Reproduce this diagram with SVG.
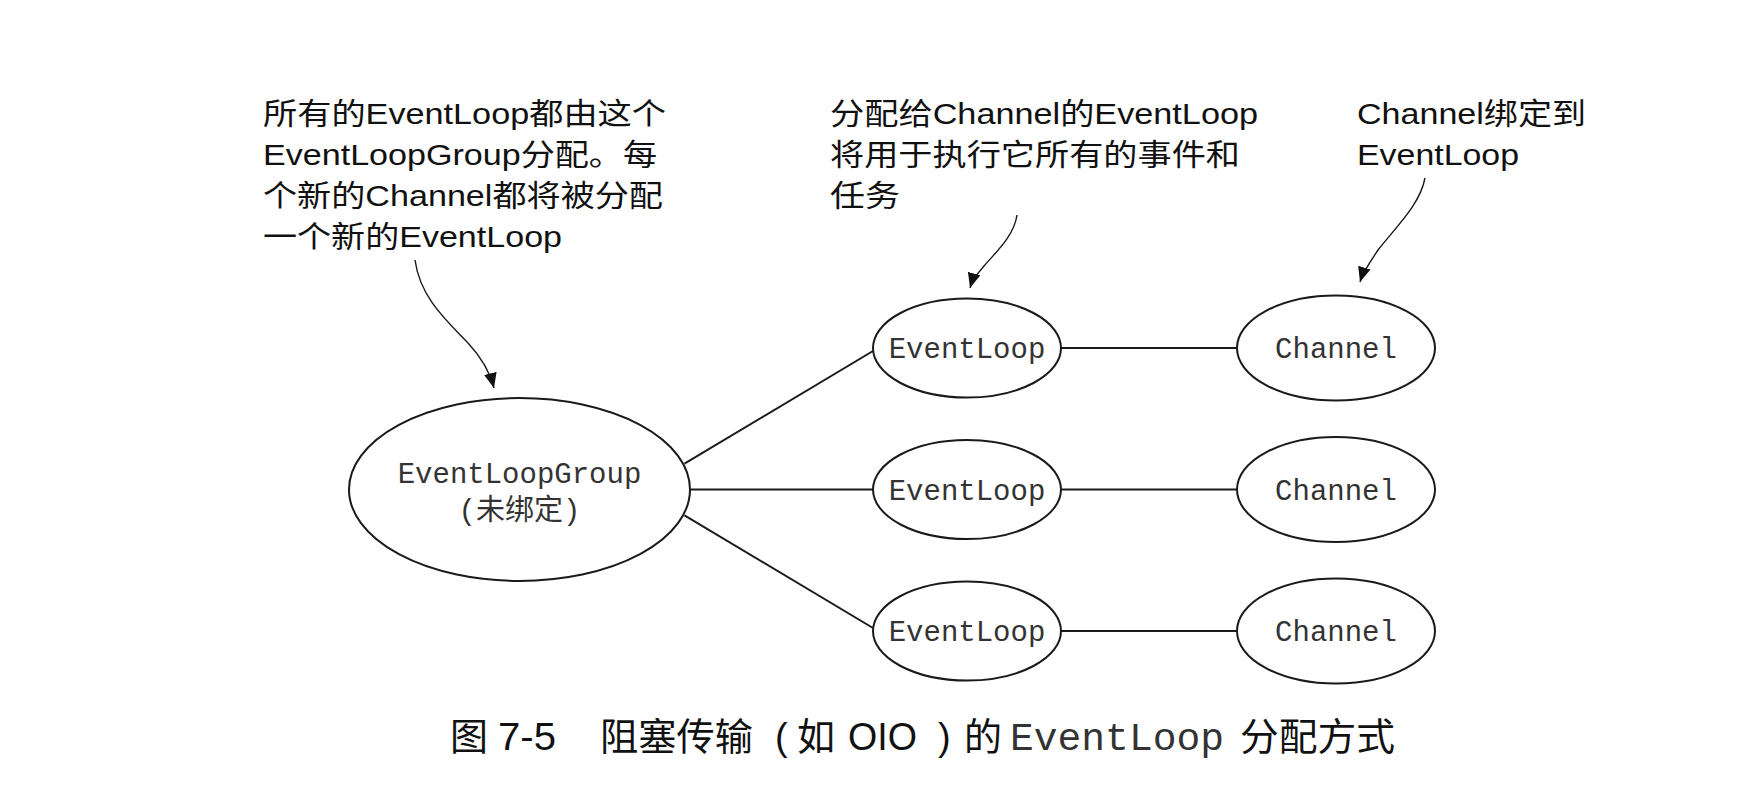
<svg xmlns="http://www.w3.org/2000/svg" width="1748" height="798" viewBox="0 0 1748 798">
<style>
.node{fill:#ffffff;stroke:#1a1a1a;stroke-width:2}
.edge{fill:none;stroke:#1a1a1a;stroke-width:2}
.pointer{fill:none;stroke:#1a1a1a;stroke-width:1.4}
.mono{font-family:"Courier New","Liberation Mono","Noto Sans CJK SC",monospace;font-size:29px;fill:#333333}
.note{font-family:"Liberation Sans",Arial,"Noto Sans CJK SC",sans-serif;font-size:30px;fill:#111111}
.cap{font-family:"Liberation Sans",Arial,"Noto Sans CJK SC",sans-serif;font-size:38px;fill:#111111}
.capLat{font-family:"Liberation Sans",Arial,sans-serif;font-size:38px;fill:#111111}
.capMono{font-family:"Courier New","Liberation Mono",monospace;font-size:39px;fill:#333333}
</style>
<defs>
<marker id="arrow" viewBox="0 0 14 12" refX="14" refY="6" markerWidth="15" markerHeight="13" markerUnits="userSpaceOnUse" orient="auto">
<path d="M0,0 L14,6 L0,12 z" fill="#111111"/>
</marker>
</defs>
<rect width="1748" height="798" fill="#ffffff"/>

<g id="connectors">
<line class="edge" x1="684.5" y1="463.7" x2="873" y2="351"/>
<line class="edge" x1="690" y1="489.5" x2="873" y2="489.5"/>
<line class="edge" x1="684.5" y1="515.3" x2="873" y2="628"/>
<line class="edge" x1="1061" y1="348" x2="1237" y2="348"/>
<line class="edge" x1="1061" y1="489.5" x2="1237" y2="489.5"/>
<line class="edge" x1="1061" y1="631" x2="1237" y2="631"/>
<path class="pointer" d="M415,260 C420,298 448,322 468,343 C482,358 490,372 494,388" marker-end="url(#arrow)"/>
<path class="pointer" d="M1017,215 C1014,236 996,252 984,266 C977,274 972,281 970,288" marker-end="url(#arrow)"/>
<path class="pointer" d="M1425,178 C1420,205 1395,228 1378,250 C1370,262 1363,272 1360,282" marker-end="url(#arrow)"/>
</g>

<g id="group">
<ellipse class="node" cx="519.5" cy="489.5" rx="170.5" ry="91.5"/>
<text class="mono" x="519.5" y="483" text-anchor="middle">EventLoopGroup</text>
<text class="mono" x="519.5" y="520" text-anchor="middle">(未绑定)</text>
</g>

<g id="eventloop1">
<ellipse class="node" cx="967" cy="348" rx="94" ry="49.5"/>
<text class="mono" x="967" y="358" text-anchor="middle">EventLoop</text>
</g>
<g id="eventloop2">
<ellipse class="node" cx="967" cy="489.5" rx="94" ry="49.5"/>
<text class="mono" x="967" y="499.5" text-anchor="middle">EventLoop</text>
</g>
<g id="eventloop3">
<ellipse class="node" cx="967" cy="631" rx="94" ry="49.5"/>
<text class="mono" x="967" y="641" text-anchor="middle">EventLoop</text>
</g>

<g id="channel1">
<ellipse class="node" cx="1336" cy="348" rx="99" ry="52.5"/>
<text class="mono" x="1336" y="358" text-anchor="middle">Channel</text>
</g>
<g id="channel2">
<ellipse class="node" cx="1336" cy="489.5" rx="99" ry="52.5"/>
<text class="mono" x="1336" y="499.5" text-anchor="middle">Channel</text>
</g>
<g id="channel3">
<ellipse class="node" cx="1336" cy="631" rx="99" ry="52.5"/>
<text class="mono" x="1336" y="641" text-anchor="middle">Channel</text>
</g>

<g id="note-group">
<text class="note" x="263" y="124" textLength="403" lengthAdjust="spacingAndGlyphs">所有的EventLoop都由这个</text>
<text class="note" x="263" y="165" textLength="394" lengthAdjust="spacingAndGlyphs">EventLoopGroup分配。每</text>
<text class="note" x="263" y="206" textLength="400" lengthAdjust="spacingAndGlyphs">个新的Channel都将被分配</text>
<text class="note" x="263" y="247" textLength="299" lengthAdjust="spacingAndGlyphs">一个新的EventLoop</text>
</g>

<g id="note-eventloop">
<text class="note" x="830" y="124" textLength="428" lengthAdjust="spacingAndGlyphs">分配给Channel的EventLoop</text>
<text class="note" x="830" y="165" textLength="410" lengthAdjust="spacingAndGlyphs">将用于执行它所有的事件和</text>
<text class="note" x="830" y="206" textLength="70" lengthAdjust="spacingAndGlyphs">任务</text>
</g>

<g id="note-channel">
<text class="note" x="1357" y="124" textLength="229" lengthAdjust="spacingAndGlyphs">Channel绑定到</text>
<text class="note" x="1357" y="165" textLength="162" lengthAdjust="spacingAndGlyphs">EventLoop</text>
</g>

<g id="caption">
<text class="cap" x="450" y="750">图</text>
<text class="capLat" x="498" y="750" textLength="58" lengthAdjust="spacingAndGlyphs">7-5</text>
<text class="cap" x="600" y="750" textLength="153" lengthAdjust="spacingAndGlyphs">阻塞传输</text>
<text class="capLat" x="775" y="750">(</text>
<text class="cap" x="797" y="750">如</text>
<text class="capLat" x="848" y="750" textLength="69" lengthAdjust="spacingAndGlyphs">OIO</text>
<text class="capLat" x="938" y="750">)</text>
<text class="cap" x="964" y="750">的</text>
<text class="capMono" x="1010" y="750" textLength="214" lengthAdjust="spacingAndGlyphs">EventLoop</text>
<text class="cap" x="1240" y="750" textLength="155" lengthAdjust="spacingAndGlyphs">分配方式</text>
</g>
</svg>
